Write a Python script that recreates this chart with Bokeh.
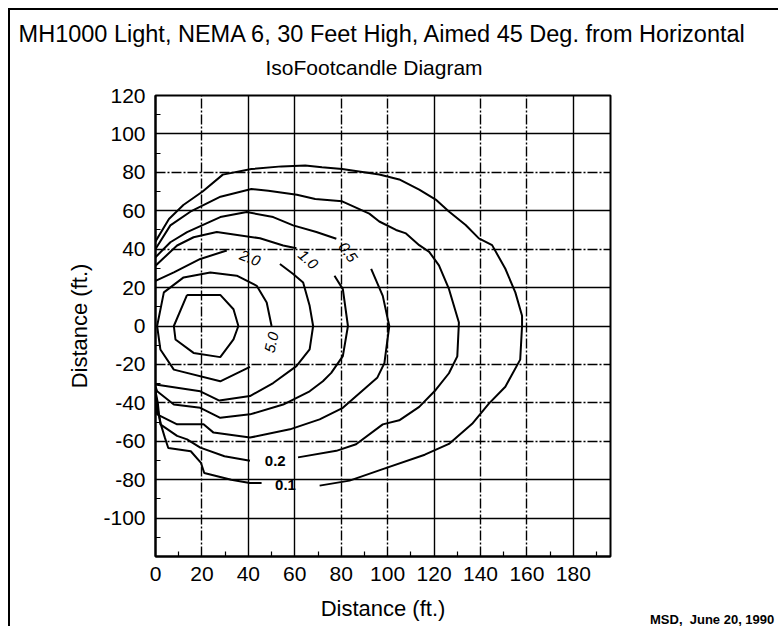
from bokeh.plotting import figure
from bokeh.models import Range1d, FixedTicker, Grid, Title, ColumnDataSource, Div
from bokeh.layouts import column
from bokeh.embed import file_html
from bokeh.resources import INLINE
from bokeh.core.properties import value

# ---------------- text ----------------
TITLE = "MH1000 Light, NEMA 6, 30 Feet High, Aimed 45 Deg. from Horizontal"
SUBTITLE = "IsoFootcandle Diagram"
X_LABEL = "Distance (ft.)"
Y_LABEL = "Distance (ft.)"
NOTE = "MSD,  June 20, 1990"

# ---------------- axes ----------------
x_ticks = [0, 20, 40, 60, 80, 100, 120, 140, 160, 180]
y_ticks = [-100, -80, -60, -40, -20, 0, 20, 40, 60, 80, 100, 120]
x_minor = [10, 30, 50, 70, 90, 110, 130, 150, 170, 190]
y_minor = [-110, -90, -70, -50, -30, -10, 10, 30, 50, 70, 90, 110]
grid_x_solid = [40, 60, 120, 180]
grid_x_dashed = [20, 80, 100, 140, 160]
grid_y_solid = [100, 60, 20, 0, -80, -100]
grid_y_dashed = [80, 40, -20, -40, -60]

# ---------------- isofootcandle contours (ft) ----------------
# innermost (unlabelled) closed contour
c10_x = [13.6, 27.9, 33.6, 35.7, 33.6, 27.9, 16.4, 8.6, 7.9, 13.6]
c10_y = [16.2, 16.2, 8.7, 0.0, -7.0, -16.2, -14.0, -7.0, 0.0, 16.2]

# 5.0 fc
c5_x = [40.7, 27.9, 7.9, 2.1, 0.7, 3.6, 12.1, 23.6, 35.0, 43.6, 47.9, 50.0]
c5_y = [-21.3, -28.8, -22.7, -12.2, 0.0, 17.5, 25.3, 27.9, 26.2, 20.9, 12.2, 0.0]

# 2.0 fc
c2a_x = [0.0, 19.3, 27.5, 40.7, 50.7, 60.7, 66.4, 67.9, 66.4, 63.6, 59.3, 53.6]
c2a_y = [-30.5, -34.0, -38.8, -36.5, -29.7, -20.9, -12.2, 0.0, 10.5, 22.7, 27.1, 32.3]
c2b_x = [0.0, 7.9, 19.3, 30.7]
c2b_y = [23.5, 27.9, 34.9, 39.3]

# 1.0 fc
c1a_x = [0.0, 0.7, 7.9, 19.3, 27.9, 40.7, 55.0, 66.4, 72.1, 75.7, 80.7, 82.9, 80.7, 77.1]
c1a_y = [-31.5, -34.0, -40.9, -42.6, -47.8, -46.0, -40.9, -34.0, -28.8, -24.4, -15.7, 0.0, 19.2, 26.2]
c1b_x = [0.0, 9.3, 16.4, 26.4, 45.0, 55.0, 60.7]
c1b_y = [31.4, 41.9, 46.2, 48.9, 45.7, 41.9, 40.5]

# 0.5 fc
c05a_x = [92.9, 97.9, 100.7, 98.6, 95.5, 90.7, 80.7, 70.7, 57.9, 40.7, 25.0, 20.7, 9.3, 0.7, 0.0]
c05a_y = [29.7, 15.7, 0.0, -19.3, -27.0, -32.0, -42.6, -48.6, -53.8, -58.1, -55.5, -51.2, -51.2, -46.0, -33.0]
c05b_x = [0.0, 6.4, 13.6, 27.9, 39.3, 50.7, 59.3, 69.3, 77.9]
c05b_y = [35.8, 43.6, 48.9, 56.7, 59.3, 56.7, 52.4, 48.9, 45.4]

# 0.2 fc
c02a_x = [61.4, 77.9, 86.4, 97.9, 105.0, 113.6, 120.7, 126.4, 130.0, 130.7, 126.4, 122.1,
          117.9, 113.6, 107.9, 103.6, 96.4, 92.1, 80.4, 68.8, 60.9, 48.6, 41.3, 28.0, 15.0, 6.4, 0.0]
c02a_y = [-68.4, -65.0, -61.6, -51.2, -49.1, -42.1, -33.3, -24.6, -15.8, 1.8, 19.3, 31.6,
          38.6, 42.1, 48.2, 50.0, 54.4, 58.5, 64.9, 66.1, 68.3, 70.4, 71.3, 67.3, 59.5, 52.4, 40.1]
c02b_x = [0.0, 1.0, 1.5, 2.1, 9.3, 13.6, 19.3, 29.7, 40.7]
c02b_y = [-34.0, -40.0, -46.0, -51.2, -57.2, -59.0, -63.3, -67.8, -70.2]

# 0.1 fc
c01a_x = [70.7, 83.6, 97.9, 116.0, 126.4, 136.4, 143.6, 150.7, 157.1, 157.9, 157.9, 155.0,
          150.7, 145.0, 139.3, 133.6, 126.4, 120.7, 113.6, 105.0, 96.4, 80.4, 71.7, 64.5,
          54.3, 41.3, 29.0, 20.3, 12.0, 5.8, 0.0]
c01a_y = [-83.1, -80.5, -74.5, -67.0, -61.4, -50.9, -40.4, -31.6, -17.5, 0.0, 5.3, 17.5,
          29.8, 42.1, 45.6, 52.6, 59.6, 65.8, 71.0, 76.3, 78.9, 81.7, 82.6, 83.5,
          83.1, 81.7, 78.8, 70.0, 63.0, 55.7, 44.0]
c01b_x = [0.0, 1.2, 2.5, 4.0, 5.5, 15.2, 19.6, 21.0, 32.6, 40.6, 45.7]
c01b_y = [-35.0, -45.0, -52.0, -58.0, -63.5, -65.2, -71.3, -76.5, -80.0, -81.7, -81.7]

contour_pieces = [
    (c10_x, c10_y), (c5_x, c5_y), (c2a_x, c2a_y), (c2b_x, c2b_y),
    (c1a_x, c1a_y), (c1b_x, c1b_y), (c05a_x, c05a_y), (c05b_x, c05b_y),
    (c02a_x, c02a_y), (c02b_x, c02b_y), (c01a_x, c01a_y), (c01b_x, c01b_y),
]

# contour labels
lab_text = ["2.0", "1.0", "0.5", "5.0"]
lab_x = [40.7, 65.7, 82.9, 50.0]
lab_y = [35.3, 34.6, 38.4, -8.5]
lab_angle = [-0.38, -0.72, -0.95, 1.35]
blab_text = ["0.2", "0.1"]
blab_x = [51.6, 56.0]
blab_y = [-70.2, -83.0]

SANS = "Liberation Sans"

p = figure(width=770, height=618, output_backend="svg", toolbar_location=None,
           x_range=Range1d(0, 196), y_range=Range1d(-120, 120), title=None,
           min_border_left=145, min_border_right=170, min_border_top=85, min_border_bottom=72,
           background_fill_color="white", border_fill_color="white")
p.margin = (8, 0, 0, 8)
p.styles = {"border-left": "2px solid black", "border-top": "2px solid black"}

p.outline_line_color = "black"
p.outline_line_width = 2

for ax, ticks, minor, lab in ((p.xaxis, x_ticks, x_minor, X_LABEL), (p.yaxis, y_ticks, y_minor, Y_LABEL)):
    ax.ticker = FixedTicker(ticks=ticks, minor_ticks=minor)
    ax.major_label_overrides = {t: str(t) for t in ticks}
    ax.axis_label = lab
    ax.axis_line_color = "black"
    ax.axis_line_width = 2
    ax.major_tick_in = 0
    ax.major_tick_out = 0
    ax.minor_tick_in = 5
    ax.minor_tick_out = 0
    ax.minor_tick_line_color = "black"
    ax.minor_tick_line_width = 1.2
    ax.major_label_text_font = SANS
    ax.major_label_text_font_size = "21px"
    ax.major_label_text_color = "black"
    ax.axis_label_text_font = SANS
    ax.axis_label_text_font_size = "22px"
    ax.axis_label_text_font_style = "normal"
    ax.axis_label_text_color = "black"

p.xaxis.major_label_standoff = 10
p.xaxis.axis_label_standoff = 12
p.yaxis.major_label_standoff = 10
p.yaxis.axis_label_standoff = 8

p.xgrid.ticker = FixedTicker(ticks=grid_x_solid)
p.ygrid.ticker = FixedTicker(ticks=grid_y_solid)
for g in (p.xgrid, p.ygrid):
    g.grid_line_color = "black"
    g.grid_line_width = 1.4
p.add_layout(Grid(dimension=0, ticker=FixedTicker(ticks=grid_x_dashed),
                  grid_line_color="black", grid_line_width=1.4, grid_line_dash="10 2 2 2"))
p.add_layout(Grid(dimension=1, ticker=FixedTicker(ticks=grid_y_dashed),
                  grid_line_color="black", grid_line_width=1.4, grid_line_dash="10 2 2 2"))

for xs, ys in contour_pieces:
    p.line(xs, ys, line_color="black", line_width=2)

src = ColumnDataSource(dict(x=lab_x, y=lab_y, text=lab_text, angle=lab_angle))
p.text(x="x", y="y", text="text", angle="angle", source=src, text_font=value(SANS),
       text_font_size="15px", text_font_style="italic", text_align="center",
       text_baseline="middle", text_color="black")
bsrc = ColumnDataSource(dict(x=blab_x, y=blab_y, text=blab_text))
p.text(x="x", y="y", text="text", source=bsrc, text_font=value(SANS),
       text_font_size="15px", text_font_style="bold", text_align="center",
       text_baseline="middle", text_color="black")

# titles: the first one added sits closest to the frame (an empty spacer first)
p.add_layout(Title(text=" ", text_font_size="1px", standoff=9), "above")
p.add_layout(Title(text=SUBTITLE, align="left", offset=110, standoff=10, text_font=SANS,
                   text_font_size="21px", text_font_style="normal", text_color="black"), "above")
p.add_layout(Title(text=TITLE, align="center", standoff=4, text_font=SANS,
                   text_font_size="23.5px", text_font_style="normal", text_color="black"), "above")

note = Div(text=NOTE, width=130, height=16, margin=(-14, 0, 0, 650),
           styles={"font-family": SANS, "font-weight": "bold", "font-size": "13px",
                   "color": "black", "white-space": "pre", "overflow": "hidden",
                   "line-height": "16px"})

layout = column(p, note, spacing=0)

open("out.html", "w").write(file_html(layout, INLINE))
